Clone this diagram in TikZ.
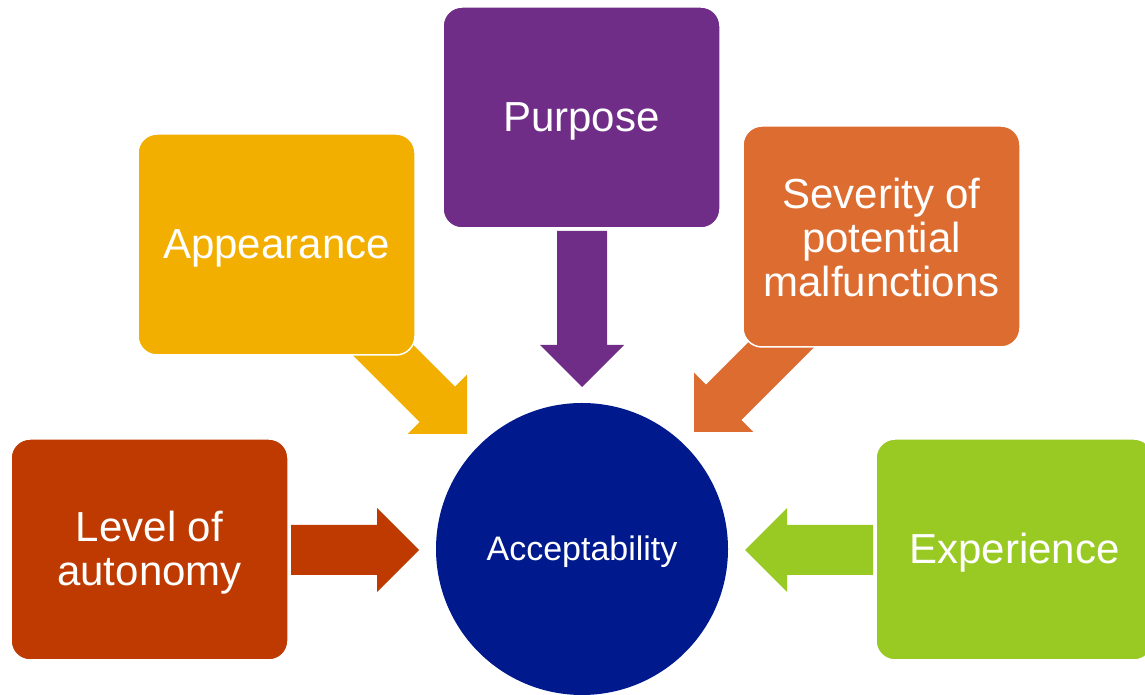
\documentclass[tikz,border=0pt]{standalone}
\usepackage{fontspec}
\setmainfont{Liberation Sans}
\definecolor{cAppear}{HTML}{F3AF00}
\definecolor{cPurpose}{HTML}{702D87}
\definecolor{cSever}{HTML}{DD6C31}
\definecolor{cLevel}{HTML}{BE3A00}
\definecolor{cExper}{HTML}{99CA24}
\definecolor{cAccept}{HTML}{001A8E}
\begin{document}
\begin{tikzpicture}[x=1pt,y=1pt,
  factor/.style={rectangle, rounded corners=19pt, draw=white, line width=1.5pt,
    minimum width=277pt, minimum height=221pt, inner sep=0pt},
  factortext/.style={inner sep=0pt, align=center, text=white,
    font=\fontsize{42}{44}\selectfont},
  hub/.style={circle, minimum size=292pt, inner sep=0pt, fill=cAccept},
  hubtext/.style={inner sep=0pt, text=white, font=\fontsize{34}{40}\selectfont},
  % block arrow with its tip at the pic origin, pointing along +x; #1 = length
  pics/blockarrow/.style={code={
    \fill[pic actions] (-#1,25) -- (-42,25) -- (-42,42) -- (0,0)
      -- (-42,-42) -- (-42,-25) -- (-#1,-25) -- cycle;}}
]
\useasboundingbox (0,0) rectangle (1145,695);

% arrows pointing at the hub (drawn first, boxes cover their tails)
\pic (arrAppear)  [fill=cAppear,  rotate=-45]  at (467,261) {blockarrow=150};
\pic (arrPurpose) [fill=cPurpose, rotate=-90]  at (582,308) {blockarrow=156};
\pic (arrSever)   [fill=cSever,   rotate=-135] at (694,263) {blockarrow=150};
\pic (arrLevel)   [fill=cLevel]                at (419,145) {blockarrow=128};
\pic (arrExper)   [fill=cExper,   rotate=180]  at (745,145) {blockarrow=128};

% factor boxes
\node[factor, fill=cAppear]  (appear)  at (276.5,450.5) {};
\node[factor, fill=cPurpose] (purpose) at (581.5,577.5) {};
\node[factor, fill=cSever]   (sever)   at (881.5,458.5) {};
\node[factor, fill=cLevel]   (level)   at (149.5,145.5) {};
\node[factor, fill=cExper]   (exper)   at (1014.5,145.5) {};

% box labels
\node[factortext] (appear-t)  at ([yshift=-3.5pt]appear.center)  {Appearance};
\node[factortext] (purpose-t) at ([yshift=-3.5pt]purpose.center) {Purpose};
\node[factortext] (sever-t)   at ([yshift=-1pt]sever.center)     {Severity of\\potential\\malfunctions};
\node[factortext] (level-t)   at ([yshift=-3pt]level.center)     {Level of\\autonomy};
\node[factortext] (exper-t)   at ([yshift=-3.5pt]exper.center)   {Experience};

% central hub
\node[hub] (accept) at (582,146) {};
\node[hubtext] (accept-t) at ([yshift=-3pt]accept.center) {Acceptability};
\end{tikzpicture}
\end{document}
